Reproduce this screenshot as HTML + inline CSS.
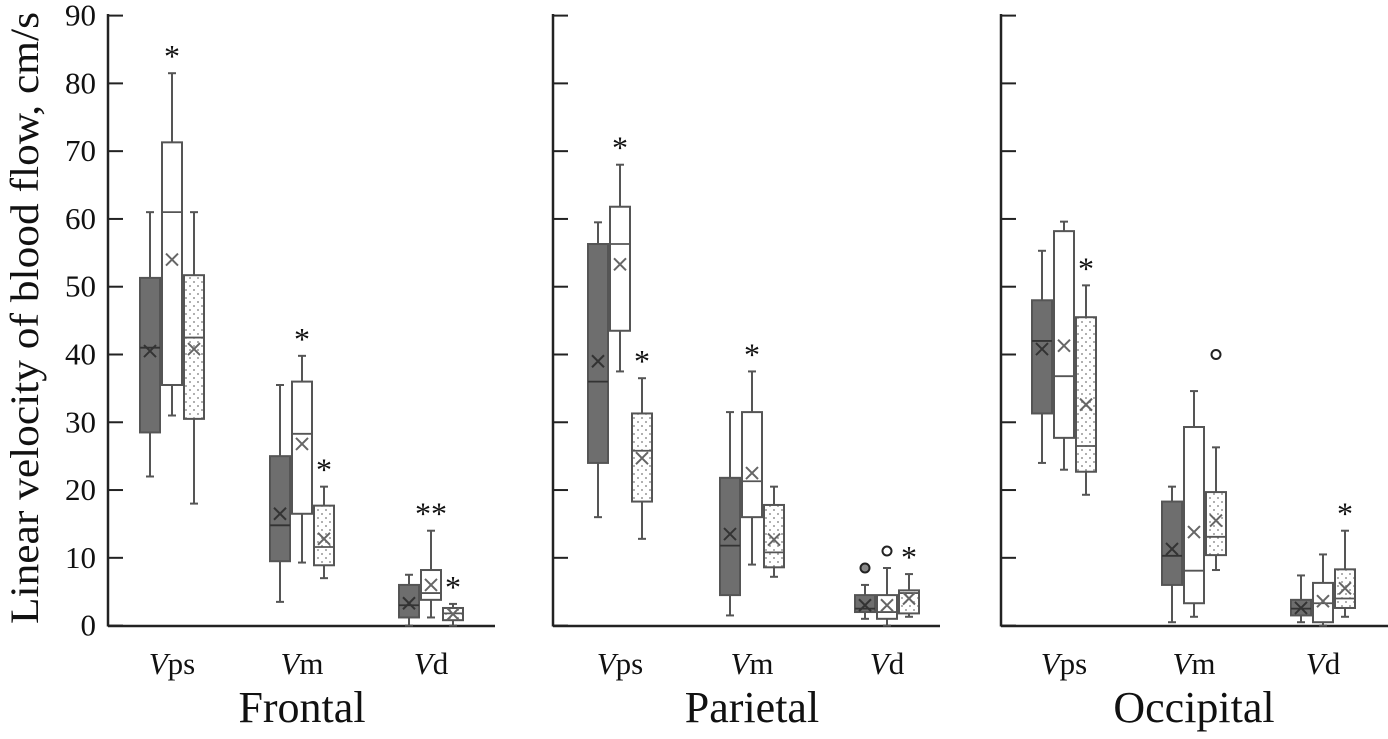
<!DOCTYPE html>
<html><head><meta charset="utf-8"><style>
html,body{margin:0;padding:0;background:#fff;}
svg text{font-family:"Liberation Serif",serif;fill:#111;}
</style></head><body>
<svg id="chart" width="1388" height="734" viewBox="0 0 1388 734" xmlns="http://www.w3.org/2000/svg">
<defs>
<pattern id="dots" width="8" height="8" patternUnits="userSpaceOnUse"><rect width="8" height="8" fill="#fff"/><circle cx="2" cy="2" r="0.9" fill="#777"/><circle cx="6" cy="6" r="0.9" fill="#777"/></pattern>
</defs>
<text x="38" y="318" font-size="40" textLength="612" lengthAdjust="spacingAndGlyphs" transform="rotate(-90 38 318)" text-anchor="middle">Linear velocity of blood flow, cm/s</text>
<g id="plot"></g>
</svg>
<script>
const regions = ["Frontal","Parietal","Occipital"];
const params = ["ps","m","d"];
const yTicks = [0,10,20,30,40,50,60,70,80,90];
// [min,q1,median,q3,max,mean] per region -> param -> group(dark,white,dotted)
const frontalStats = [
 [[22,28.5,41,51.3,61,40.5],[31,35.5,61,71.3,81.5,54],[18,30.5,42.5,51.7,61,40.8]],
 [[3.5,9.5,14.8,25,35.5,16.5],[9.3,16.5,28.3,36,39.8,26.8],[7,8.9,11.6,17.7,20.5,12.8]],
 [[0,1.2,3,6,7.5,3.3],[1.2,3.8,4.8,8.2,14,6],[0,0.8,1.8,2.6,3.2,1.7]]];
const parietalStats = [
 [[16,24,36,56.3,59.5,39],[37.5,43.5,56.3,61.8,68,53.3],[12.8,18.3,25.8,31.3,36.5,24.7]],
 [[1.5,4.5,11.8,21.8,31.5,13.5],[9,16,21.3,31.5,37.5,22.5],[7.2,8.6,10.8,17.8,20.5,12.7]],
 [[1,2,2.5,4.5,6,3],[0,1,2,4.5,8.5,3],[1.3,1.8,4.8,5.2,7.6,4]]];
const occipitalStats = [
 [[24,31.3,42,48,55.3,40.8],[23,27.7,36.8,58.2,59.6,41.3],[19.3,22.7,26.5,45.5,50.2,32.6]],
 [[0.5,6,10.3,18.3,20.5,11.3],[1.3,3.3,8.1,29.3,34.6,13.8],[8.2,10.4,13.1,19.7,26.3,15.5]],
 [[0.5,1.5,2.5,3.8,7.4,2.6],[0,0.5,3.3,6.3,10.5,3.6],[1.3,2.6,4,8.3,14,5.5]]];
// significance marks: [region, param, group, label]
const stars = [[0,0,1,"*"],[0,1,1,"*"],[0,1,2,"*"],[0,2,1,"**"],[0,2,2,"*"],
 [1,0,1,"*"],[1,0,2,"*"],[1,1,1,"*"],[1,2,2,"*"],[2,0,2,"*"],[2,2,2,"*"]];
// outliers: [region,param,group,value]
const outliers = [[1,2,0,8.5],[1,2,1,11],[2,1,2,40]];

const allStats=[frontalStats,parietalStats,occipitalStats];
const axisX=[108,553,1001], axisEnd=[495,940,1388];
const paramCenters=[[172,302,431],[620,752,887],[1064,1194,1323]];
const gOff=[-22,0,22], bw=20;
const y=v=>625.6-(v/90)*610;
const NS="http://www.w3.org/2000/svg";
const plot=document.getElementById('plot');
function mk(tag,attrs,parent){const e=document.createElementNS(NS,tag);for(const k in attrs)e.setAttribute(k,attrs[k]);(parent||plot).appendChild(e);return e;}
const fills=["#6e6e6e","#fff","url(#dots)"];
const stroke="#555";
regions.forEach((rn,r)=>{
 const ax=axisX[r];
 const a=mk('line',{x1:ax,y1:14,x2:ax,y2:626.5,stroke:"#222","stroke-width":2.5});
 
 
 const xa=mk('line',{x1:ax,y1:626,x2:axisEnd[r],y2:626,stroke:"#222","stroke-width":2.5});
 
 
 yTicks.forEach(t=>{
  const tk=mk('line',{x1:ax,y1:y(t),x2:ax+15,y2:y(t),stroke:"#222","stroke-width":2});
  
  
  if(r===0){const tl=mk('text',{x:ax-12,y:y(t)+10,"font-size":31,"text-anchor":"end"});tl.textContent=t;
   
   }
 });
 params.forEach((p,pi)=>{
  const cx0=paramCenters[r][pi];
  const lab=mk('text',{x:cx0,y:674,"font-size":31,"text-anchor":"middle"});
  lab.innerHTML='<tspan font-style="italic">V</tspan>'+p;
  
  
  allStats[r][pi].forEach((s,g)=>{
   const cx=cx0+gOff[g];
   const grp=mk('g',{});
   
   
   mk('line',{x1:cx,y1:y(s[0]),x2:cx,y2:y(s[4]),stroke:stroke,"stroke-width":2},grp);
   mk('line',{x1:cx-4,y1:y(s[0]),x2:cx+4,y2:y(s[0]),stroke:stroke,"stroke-width":2},grp);
   mk('line',{x1:cx-4,y1:y(s[4]),x2:cx+4,y2:y(s[4]),stroke:stroke,"stroke-width":2},grp);
   mk('rect',{x:cx-bw/2,y:y(s[3]),width:bw,height:y(s[1])-y(s[3]),fill:fills[g],stroke:stroke,"stroke-width":2},grp);
   mk('line',{x1:cx-bw/2,y1:y(s[2]),x2:cx+bw/2,y2:y(s[2]),stroke:g===0?"#333":stroke,"stroke-width":1.8},grp);
   const m=y(s[5]),c=g===0?"#333":"#666";
   mk('path',{d:`M${cx-6} ${m-6}L${cx+6} ${m+6}M${cx-6} ${m+6}L${cx+6} ${m-6}`,stroke:c,"stroke-width":2},grp);
  });
 });
 const gl=mk('text',{x:paramCenters[r][1],y:722,"font-size":44,"text-anchor":"middle"});
 gl.textContent=rn;
 
 
});
stars.forEach(([r,p,g,l])=>{
 const s=allStats[r][p][g];
 const cx=paramCenters[r][p]+gOff[g];
 const st=mk('text',{x:cx,y:y(s[4])-6,"font-size":32,"text-anchor":"middle"});
 st.textContent=l;
 
 
});
outliers.forEach(([r,p,g,v])=>{
 const cx=paramCenters[r][p]+gOff[g];
 const o=mk('circle',{cx:cx,cy:y(v),r:4.5,fill:g===0?"#888":"#fff",stroke:"#222","stroke-width":2});
 
 
});
</script>
</body></html>
